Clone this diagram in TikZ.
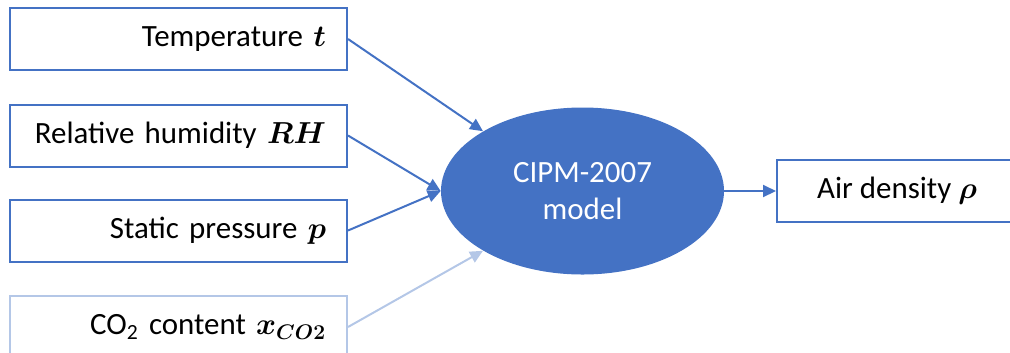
\documentclass[tikz,border=0pt]{standalone}
\usepackage{amsmath}
\usepackage{amssymb}
\usepackage{fontspec}
\setmainfont{Carlito}
\usetikzlibrary{shapes.geometric}
\usetikzlibrary{arrows.meta}
\definecolor{cipmblue}{HTML}{4472C4}
\definecolor{cipmlight}{HTML}{B4C7E7}

\begin{document}
\begin{tikzpicture}[x=0.2mm,y=-0.2mm,
	every node/.style={font=\fontsize{17.6}{21.5}\selectfont},
	inbox/.style={draw=cipmblue,line width=0.4mm,rectangle,minimum width=67.4mm,minimum height=12.4mm,text width=59mm,align=right,inner sep=0pt},
	outbox/.style={draw=cipmblue,line width=0.4mm,rectangle,minimum width=48mm,minimum height=12.4mm,align=center,inner sep=0pt},
	model/.style={ellipse,fill=cipmblue,text=white,minimum width=56.6mm,minimum height=33.4mm,align=center,inner sep=0pt},
	feed/.style={draw=cipmblue,line width=0.4mm,-{Triangle[length=2.6mm,width=2.4mm]}}]
	\useasboundingbox (0,0) rectangle (1010,352);
	\clip (0,0) rectangle (1010,352);

	\node[inbox] (temp) at (178.5,39) {Temperature $\boldsymbol{t}$};
	\node[inbox] (hum) at (178.5,135.5) {Relative humidity $\boldsymbol{RH}$};
	\node[inbox] (pres) at (178.5,230.5) {Static pressure $\boldsymbol{p}$};
	\node[inbox,draw=cipmlight] (co2) at (178.5,327) {CO\textsubscript{2} content $\boldsymbol{x_{CO2}}$};

	\node[model] (cipm) at (582.5,191) {CIPM-2007\\model};
	\node[outbox] (rho) at (897,191) {Air density $\boldsymbol{\rho}$};

	\draw[feed] (temp.east) -- (cipm.149);
	\draw[feed] (hum.east) -- (cipm.west);
	\draw[feed] (pres.east) -- (cipm.west);
	\draw[feed,draw=cipmlight,fill=cipmlight] (co2.east) -- (cipm.211);
	\draw[feed] (cipm.east) -- (rho.west);
	\end{tikzpicture}
\end{document}
